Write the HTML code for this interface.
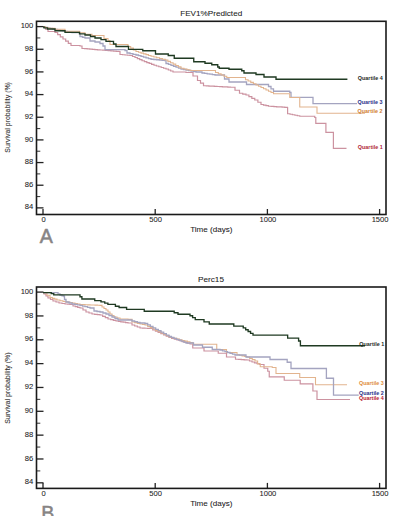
<!DOCTYPE html>
<html><head><meta charset="utf-8"><style>
html,body{margin:0;padding:0;background:#fff;width:400px;height:516px;overflow:hidden}
svg{display:block;font-family:"Liberation Sans", sans-serif}
.tx{fill:#222;stroke:#222;stroke-width:0.06px}
</style></head><body>
<svg width="400" height="516" viewBox="0 0 400 516">
<rect width="400" height="516" fill="#fff"/>
<text x="211.2" y="16.2" font-size="7.4" class="tx" text-anchor="middle" textLength="62.0" lengthAdjust="spacingAndGlyphs">FEV1%Predicted</text>
<line x1="36.5" y1="26.60" x2="43.5" y2="26.60" stroke="#222" stroke-width="1.3"/>
<text x="33.3" y="28.20" font-size="7.6" class="tx" text-anchor="end">100</text>
<line x1="36.5" y1="37.93" x2="40.3" y2="37.93" stroke="#444" stroke-width="1.1"/>
<line x1="36.5" y1="49.26" x2="43.5" y2="49.26" stroke="#222" stroke-width="1.3"/>
<text x="33.3" y="50.86" font-size="7.6" class="tx" text-anchor="end">98</text>
<line x1="36.5" y1="60.59" x2="40.3" y2="60.59" stroke="#444" stroke-width="1.1"/>
<line x1="36.5" y1="71.92" x2="43.5" y2="71.92" stroke="#222" stroke-width="1.3"/>
<text x="33.3" y="73.52" font-size="7.6" class="tx" text-anchor="end">96</text>
<line x1="36.5" y1="83.25" x2="40.3" y2="83.25" stroke="#444" stroke-width="1.1"/>
<line x1="36.5" y1="94.58" x2="43.5" y2="94.58" stroke="#222" stroke-width="1.3"/>
<text x="33.3" y="96.18" font-size="7.6" class="tx" text-anchor="end">94</text>
<line x1="36.5" y1="105.91" x2="40.3" y2="105.91" stroke="#444" stroke-width="1.1"/>
<line x1="36.5" y1="117.24" x2="43.5" y2="117.24" stroke="#222" stroke-width="1.3"/>
<text x="33.3" y="118.84" font-size="7.6" class="tx" text-anchor="end">92</text>
<line x1="36.5" y1="128.57" x2="40.3" y2="128.57" stroke="#444" stroke-width="1.1"/>
<line x1="36.5" y1="139.90" x2="43.5" y2="139.90" stroke="#222" stroke-width="1.3"/>
<text x="33.3" y="141.50" font-size="7.6" class="tx" text-anchor="end">90</text>
<line x1="36.5" y1="151.23" x2="40.3" y2="151.23" stroke="#444" stroke-width="1.1"/>
<line x1="36.5" y1="162.56" x2="43.5" y2="162.56" stroke="#222" stroke-width="1.3"/>
<text x="33.3" y="164.16" font-size="7.6" class="tx" text-anchor="end">88</text>
<line x1="36.5" y1="173.89" x2="40.3" y2="173.89" stroke="#444" stroke-width="1.1"/>
<line x1="36.5" y1="185.22" x2="43.5" y2="185.22" stroke="#222" stroke-width="1.3"/>
<text x="33.3" y="186.82" font-size="7.6" class="tx" text-anchor="end">86</text>
<line x1="36.5" y1="196.55" x2="40.3" y2="196.55" stroke="#444" stroke-width="1.1"/>
<line x1="36.5" y1="207.88" x2="43.5" y2="207.88" stroke="#222" stroke-width="1.3"/>
<text x="33.3" y="209.48" font-size="7.6" class="tx" text-anchor="end">84</text>
<line x1="43.00" y1="214.5" x2="43.00" y2="209.0" stroke="#222" stroke-width="1.3"/>
<text x="43.50" y="222.10" font-size="7.6" class="tx" text-anchor="middle">0</text>
<line x1="155.20" y1="214.5" x2="155.20" y2="209.0" stroke="#222" stroke-width="1.3"/>
<text x="155.70" y="222.10" font-size="7.6" class="tx" text-anchor="middle">500</text>
<line x1="267.40" y1="214.5" x2="267.40" y2="209.0" stroke="#222" stroke-width="1.3"/>
<text x="267.90" y="222.10" font-size="7.6" class="tx" text-anchor="middle">1000</text>
<line x1="379.60" y1="214.5" x2="379.60" y2="209.0" stroke="#222" stroke-width="1.3"/>
<text x="380.10" y="222.10" font-size="7.6" class="tx" text-anchor="middle">1500</text>
<path d="M43.00 26.80 H45.50 V29.15 H48.00 V31.50 H55.00 V32.50 H57.67 V34.67 H60.33 V36.83 H63.00 V39.00 H65.67 V41.17 H68.33 V43.33 H71.00 V45.50 H80.00 V46.00 H82.00 V48.50 H84.57 V48.71 H87.14 V48.93 H89.71 V49.14 H92.29 V49.36 H94.86 V49.57 H97.43 V49.79 H100.00 V50.00 H102.71 V50.21 H105.43 V50.43 H108.14 V50.64 H110.86 V50.86 H113.57 V51.07 H116.29 V51.29 H119.00 V51.50 H120.00 V54.50 H122.50 V54.75 H125.00 V55.00 H127.50 V55.25 H130.00 V55.50 H132.50 V56.50 H135.00 V57.50 H137.33 V58.58 H139.67 V59.67 H142.00 V60.75 H144.40 V61.65 H146.80 V62.55 H149.20 V63.45 H151.60 V64.35 H154.00 V65.25 H156.40 V66.00 H158.80 V66.75 H161.20 V67.50 H163.60 V68.25 H166.00 V69.00 H168.33 V70.00 H170.67 V71.00 H173.00 V72.00 H186.00 V72.50 H193.00 V76.00 H197.50 V80.50 H200.50 V83.12 H203.50 V85.75 H206.20 V85.90 H208.90 V86.05 H211.60 V86.20 H214.30 V86.35 H217.00 V86.50 H219.70 V86.65 H222.40 V86.80 H225.10 V86.95 H227.80 V87.10 H230.50 V87.25 H235.00 V90.25 H239.50 V93.25 H242.75 V94.12 H246.00 V95.00 H248.92 V96.67 H251.83 V98.33 H254.75 V100.00 H257.88 V102.25 H261.00 V104.50 H263.50 V105.08 H266.00 V105.67 H268.50 V106.25 H271.21 V106.43 H273.93 V106.61 H276.64 V106.79 H279.36 V106.96 H282.07 V107.14 H284.79 V107.32 H287.50 V107.50 H287.60 V113.75 H290.03 V114.25 H292.46 V114.75 H294.89 V115.25 H297.32 V115.75 H299.75 V116.25 H314.75 V117.50 H315.80 V123.30 H325.90 V132.30 H333.40 V148.30 H346.50 V148.30" fill="none" stroke="#cc92a0" stroke-width="1.20"/>
<path d="M43.00 26.80 H45.33 V27.37 H47.67 V27.93 H50.00 V28.50 H52.50 V29.00 H55.00 V29.50 H57.50 V30.00 H60.00 V30.50 H62.40 V30.90 H64.80 V31.30 H67.20 V31.70 H69.60 V32.10 H72.00 V32.50 H80.00 V36.50 H82.50 V37.25 H85.00 V38.00 H90.00 V41.00 H95.00 V42.00 H100.00 V43.50 H103.00 V46.00 H105.00 V49.70 H125.00 V50.50 H127.00 V53.00 H130.00 V53.67 H133.00 V54.33 H136.00 V55.00 H138.50 V55.71 H141.00 V56.42 H143.50 V57.12 H146.00 V57.83 H148.50 V58.54 H151.00 V59.25 H153.80 V59.50 H156.60 V59.75 H159.40 V60.00 H162.20 V60.25 H165.00 V60.50 H166.00 V63.50 H168.50 V64.42 H171.00 V65.33 H173.50 V66.25 H176.00 V67.17 H178.50 V68.08 H181.00 V69.00 H183.50 V69.50 H186.00 V70.00 H188.50 V70.50 H191.00 V71.00 H193.50 V71.50 H196.00 V72.00 H202.00 V73.00 H204.60 V73.40 H207.20 V73.80 H209.80 V74.20 H212.40 V74.60 H215.00 V75.00 H224.50 V79.00 H229.00 V82.00 H246.50 V84.50 H268.50 V86.50 H271.00 V88.88 H273.50 V91.25 H289.75 V92.50 H291.00 V97.30 H313.00 V103.60 H357.00 V103.60" fill="none" stroke="#a4a4c0" stroke-width="1.30"/>
<path d="M43.00 26.80 H45.50 V27.50 H48.00 V28.20 H55.00 V29.30 H65.00 V31.20 H79.50 V32.80 H85.00 V34.30 H92.00 V35.50 H104.00 V38.50 H108.00 V40.50 H110.00 V44.50 H128.00 V46.50 H130.67 V48.17 H133.33 V49.83 H136.00 V51.50 H138.50 V52.29 H141.00 V53.08 H143.50 V53.88 H146.00 V54.67 H148.50 V55.46 H151.00 V56.25 H153.85 V57.00 H156.70 V57.75 H159.55 V58.50 H162.40 V59.25 H165.25 V60.00 H167.88 V61.38 H170.50 V62.75 H173.12 V64.12 H175.75 V65.50 H178.38 V66.88 H181.00 V68.25 H184.00 V69.00 H187.00 V69.75 H190.00 V70.50 H215.50 V72.50 H218.31 V73.75 H221.12 V75.00 H223.94 V76.25 H226.75 V77.50 H245.50 V79.75 H248.12 V81.06 H250.75 V82.38 H253.38 V83.69 H256.00 V85.00 H258.50 V86.25 H261.00 V87.50 H263.50 V88.75 H266.00 V90.00 H268.50 V91.25 H271.00 V92.50 H273.50 V93.75 H289.75 V97.50 H299.75 V107.00 H317.00 V113.20 H365.00 V113.20" fill="none" stroke="#e2b48e" stroke-width="1.10"/>
<path d="M43.00 26.80 H44.00 V27.80 H47.50 V29.00 H55.00 V30.70 H65.00 V32.30 H79.50 V33.80 H85.00 V35.00 H90.50 V36.50 H95.00 V38.00 H101.00 V39.60 H106.00 V41.30 H113.50 V44.00 H116.00 V46.50 H128.50 V49.40 H142.75 V50.70 H155.50 V54.00 H168.25 V55.50 H174.25 V58.20 H193.75 V61.75 H205.00 V63.25 H211.75 V64.75 H217.75 V67.00 H219.25 V68.20 H229.00 V69.25 H241.75 V70.75 H244.00 V73.00 H256.00 V74.50 H264.00 V77.00 H276.00 V79.25 H347.40 V79.25" fill="none" stroke="#1f3a22" stroke-width="1.35"/>
<text x="357.8" y="79.60" font-size="5.4" font-weight="bold" fill="#1e2a1e">Quartile 4</text>
<text x="357.6" y="103.90" font-size="5.4" font-weight="bold" fill="#283088">Quartile 3</text>
<text x="357.6" y="113.30" font-size="5.4" font-weight="bold" fill="#d08030">Quartile 2</text>
<text x="357.8" y="148.70" font-size="5.4" font-weight="bold" fill="#b02838">Quartile 1</text>
<rect x="36.50" y="21.30" width="349.50" height="193.20" fill="none" stroke="#1a1a1a" stroke-width="1.6"/>
<text transform="translate(10.0 117.4) rotate(-90)" font-size="7.5" fill="#333" stroke="#333" stroke-width="0.1" text-anchor="middle" textLength="70.6" lengthAdjust="spacingAndGlyphs">Survival probability (%)</text>
<text x="211.35" y="232.10" font-size="7.6" class="tx" text-anchor="middle" textLength="42.3" lengthAdjust="spacingAndGlyphs">Time (days)</text>
<text x="46.2" y="243.3" font-size="19.6" fill="#878484" stroke="#878484" stroke-width="0.5" text-anchor="middle">A</text>
<text x="211.0" y="282.0" font-size="7.4" class="tx" text-anchor="middle" textLength="26.0" lengthAdjust="spacingAndGlyphs">Perc15</text>
<line x1="36.5" y1="292.10" x2="43.5" y2="292.10" stroke="#222" stroke-width="1.3"/>
<text x="33.3" y="293.70" font-size="7.6" class="tx" text-anchor="end">100</text>
<line x1="36.5" y1="304.02" x2="40.3" y2="304.02" stroke="#444" stroke-width="1.1"/>
<line x1="36.5" y1="315.94" x2="43.5" y2="315.94" stroke="#222" stroke-width="1.3"/>
<text x="33.3" y="317.54" font-size="7.6" class="tx" text-anchor="end">98</text>
<line x1="36.5" y1="327.86" x2="40.3" y2="327.86" stroke="#444" stroke-width="1.1"/>
<line x1="36.5" y1="339.78" x2="43.5" y2="339.78" stroke="#222" stroke-width="1.3"/>
<text x="33.3" y="341.38" font-size="7.6" class="tx" text-anchor="end">96</text>
<line x1="36.5" y1="351.70" x2="40.3" y2="351.70" stroke="#444" stroke-width="1.1"/>
<line x1="36.5" y1="363.62" x2="43.5" y2="363.62" stroke="#222" stroke-width="1.3"/>
<text x="33.3" y="365.22" font-size="7.6" class="tx" text-anchor="end">94</text>
<line x1="36.5" y1="375.54" x2="40.3" y2="375.54" stroke="#444" stroke-width="1.1"/>
<line x1="36.5" y1="387.46" x2="43.5" y2="387.46" stroke="#222" stroke-width="1.3"/>
<text x="33.3" y="389.06" font-size="7.6" class="tx" text-anchor="end">92</text>
<line x1="36.5" y1="399.38" x2="40.3" y2="399.38" stroke="#444" stroke-width="1.1"/>
<line x1="36.5" y1="411.30" x2="43.5" y2="411.30" stroke="#222" stroke-width="1.3"/>
<text x="33.3" y="412.90" font-size="7.6" class="tx" text-anchor="end">90</text>
<line x1="36.5" y1="423.22" x2="40.3" y2="423.22" stroke="#444" stroke-width="1.1"/>
<line x1="36.5" y1="435.14" x2="43.5" y2="435.14" stroke="#222" stroke-width="1.3"/>
<text x="33.3" y="436.74" font-size="7.6" class="tx" text-anchor="end">88</text>
<line x1="36.5" y1="447.06" x2="40.3" y2="447.06" stroke="#444" stroke-width="1.1"/>
<line x1="36.5" y1="458.98" x2="43.5" y2="458.98" stroke="#222" stroke-width="1.3"/>
<text x="33.3" y="460.58" font-size="7.6" class="tx" text-anchor="end">86</text>
<line x1="36.5" y1="470.90" x2="40.3" y2="470.90" stroke="#444" stroke-width="1.1"/>
<line x1="36.5" y1="482.82" x2="43.5" y2="482.82" stroke="#222" stroke-width="1.3"/>
<text x="33.3" y="484.42" font-size="7.6" class="tx" text-anchor="end">84</text>
<line x1="43.00" y1="488.4" x2="43.00" y2="482.9" stroke="#222" stroke-width="1.3"/>
<text x="43.50" y="495.60" font-size="7.6" class="tx" text-anchor="middle">0</text>
<line x1="155.20" y1="488.4" x2="155.20" y2="482.9" stroke="#222" stroke-width="1.3"/>
<text x="155.70" y="495.60" font-size="7.6" class="tx" text-anchor="middle">500</text>
<line x1="267.40" y1="488.4" x2="267.40" y2="482.9" stroke="#222" stroke-width="1.3"/>
<text x="267.90" y="495.60" font-size="7.6" class="tx" text-anchor="middle">1000</text>
<line x1="379.60" y1="488.4" x2="379.60" y2="482.9" stroke="#222" stroke-width="1.3"/>
<text x="380.10" y="495.60" font-size="7.6" class="tx" text-anchor="middle">1500</text>
<path d="M43.00 292.60 H44.00 V294.00 H46.00 V296.00 H48.00 V298.00 H50.50 V299.50 H53.00 V301.00 H56.00 V302.00 H59.00 V303.00 H62.00 V303.50 H65.00 V304.00 H67.50 V304.25 H70.00 V304.50 H73.00 V306.00 H75.33 V306.67 H77.67 V307.33 H80.00 V308.00 H83.00 V310.00 H86.00 V312.00 H89.00 V313.00 H92.00 V314.00 H94.67 V314.33 H97.33 V314.67 H100.00 V315.00 H102.67 V316.33 H105.33 V317.67 H108.00 V319.00 H110.67 V319.67 H113.33 V320.33 H116.00 V321.00 H118.40 V321.40 H120.80 V321.80 H123.20 V322.20 H125.60 V322.60 H128.00 V323.00 H132.00 V325.00 H134.67 V326.00 H137.33 V327.00 H140.00 V328.00 H142.50 V328.12 H145.00 V328.25 H147.50 V328.38 H150.00 V328.50 H152.71 V329.79 H155.43 V331.07 H158.14 V332.36 H160.86 V333.64 H163.57 V334.93 H166.29 V336.21 H169.00 V337.50 H171.62 V338.31 H174.25 V339.12 H176.88 V339.94 H179.50 V340.75 H182.12 V341.56 H184.75 V342.38 H187.38 V343.19 H190.00 V344.00 H192.75 V348.00 H204.00 V351.00 H218.25 V353.25 H226.50 V357.00 H235.50 V359.25 H238.38 V359.44 H241.25 V359.62 H244.12 V359.81 H247.00 V360.00 H249.50 V361.00 H252.00 V362.00 H254.50 V362.83 H257.00 V363.67 H259.50 V364.50 H264.00 V368.25 H267.75 V371.25 H269.25 V376.80 H284.25 V380.25 H300.20 V383.80 H312.90 V391.00 H317.00 V399.50 H350.00 V399.50" fill="none" stroke="#cc92a0" stroke-width="1.20"/>
<path d="M43.00 292.60 H44.00 V293.00 H47.00 V295.25 H50.00 V297.50 H52.33 V298.33 H54.67 V299.17 H57.00 V300.00 H60.00 V300.75 H63.00 V301.50 H65.33 V301.83 H67.67 V302.17 H70.00 V302.50 H72.50 V303.00 H75.00 V303.50 H77.50 V304.00 H80.00 V304.50 H82.50 V304.61 H85.00 V304.73 H87.50 V304.84 H90.00 V304.95 H92.50 V305.06 H95.00 V305.17 H97.50 V305.29 H100.00 V305.40 H102.00 V307.00 H104.00 V308.50 H106.00 V310.00 H108.00 V312.00 H110.00 V314.00 H112.00 V315.50 H114.00 V317.00 H117.00 V318.00 H120.00 V319.00 H128.00 V319.40 H132.00 V322.00 H134.67 V322.67 H137.33 V323.33 H140.00 V324.00 H142.50 V324.50 H145.00 V325.00 H147.67 V326.33 H150.33 V327.67 H153.00 V329.00 H155.67 V330.33 H158.33 V331.67 H161.00 V333.00 H163.67 V334.33 H166.33 V335.67 H169.00 V337.00 H171.62 V337.69 H174.25 V338.38 H176.88 V339.06 H179.50 V339.75 H182.12 V340.44 H184.75 V341.12 H187.38 V341.81 H190.00 V342.50 H193.00 V344.25 H216.75 V349.50 H226.50 V352.50 H237.00 V354.75 H239.50 V355.31 H242.00 V355.88 H244.50 V356.44 H247.00 V357.00 H249.67 V358.33 H252.33 V359.67 H255.00 V361.00 H257.62 V363.88 H260.25 V366.75 H272.25 V367.50 H276.00 V373.50 H299.75 V377.50 H315.50 V384.70 H347.00 V384.70" fill="none" stroke="#e2b48e" stroke-width="1.10"/>
<path d="M43.00 292.60 H56.00 V292.60 H58.00 V293.80 H60.00 V295.00 H62.00 V295.75 H64.00 V296.50 H64.50 V299.50 H66.00 V302.00 H69.00 V303.00 H72.00 V304.00 H74.67 V304.47 H77.33 V304.93 H80.00 V305.40 H82.50 V306.05 H85.00 V306.70 H87.50 V307.35 H90.00 V308.00 H94.00 V311.00 H97.00 V311.50 H100.00 V312.00 H103.00 V313.00 H106.00 V314.00 H109.00 V315.50 H112.00 V317.00 H115.00 V318.50 H118.00 V320.00 H128.00 V320.00 H132.00 V321.00 H134.67 V321.67 H137.33 V322.33 H140.00 V323.00 H145.00 V323.50 H147.67 V324.94 H150.33 V326.39 H153.00 V327.83 H155.67 V329.28 H158.33 V330.72 H161.00 V332.17 H163.67 V333.61 H166.33 V335.06 H169.00 V336.50 H171.43 V337.43 H173.86 V338.36 H176.29 V339.29 H178.71 V340.21 H181.14 V341.14 H183.57 V342.07 H186.00 V343.00 H193.50 V345.00 H202.50 V347.25 H212.25 V349.50 H220.00 V350.00 H222.50 V350.83 H225.00 V351.67 H227.50 V352.50 H230.00 V353.33 H232.50 V354.17 H235.00 V355.00 H246.00 V357.00 H270.00 V359.50 H287.20 V362.25 H291.00 V368.50 H326.40 V378.25 H333.50 V395.20 H358.75 V395.20" fill="none" stroke="#a4a4c0" stroke-width="1.30"/>
<path d="M43.00 292.60 H51.25 V293.60 H53.75 V294.90 H80.00 V296.75 H81.90 V299.00 H94.75 V300.60 H101.00 V301.90 H104.75 V303.10 H107.90 V304.40 H115.40 V306.25 H119.10 V307.50 H126.60 V309.40 H144.25 V311.25 H174.20 V312.75 H178.00 V314.25 H190.00 V315.75 H192.62 V317.68 H195.25 V319.60 H204.00 V321.90 H209.25 V324.00 H233.80 V326.10 H240.80 V326.10 H243.24 V327.91 H245.68 V329.72 H248.12 V331.53 H250.56 V333.34 H253.00 V335.15 H287.65 V338.10 H298.60 V341.00 H300.40 V345.70 H365.00 V345.70" fill="none" stroke="#1f3a22" stroke-width="1.35"/>
<text x="359.3" y="346.10" font-size="5.4" font-weight="bold" fill="#1e2a1e">Quartile 1</text>
<text x="359.0" y="384.70" font-size="5.4" font-weight="bold" fill="#e08c3c">Quartile 3</text>
<text x="359.0" y="395.10" font-size="5.4" font-weight="bold" fill="#283088">Quartile 2</text>
<text x="359.0" y="399.60" font-size="5.4" font-weight="bold" fill="#b82030">Quartile 4</text>
<rect x="36.50" y="287.00" width="349.50" height="201.40" fill="none" stroke="#1a1a1a" stroke-width="1.6"/>
<text transform="translate(10.0 388.1) rotate(-90)" font-size="7.5" fill="#333" stroke="#333" stroke-width="0.1" text-anchor="middle" textLength="71.5" lengthAdjust="spacingAndGlyphs">Survival probability (%)</text>
<text x="211.35" y="506.30" font-size="7.6" class="tx" text-anchor="middle" textLength="42.3" lengthAdjust="spacingAndGlyphs">Time (days)</text>
<text x="47.9" y="519.9" font-size="19.6" fill="#878484" stroke="#878484" stroke-width="0.5" text-anchor="middle">B</text>
</svg>
</body></html>
